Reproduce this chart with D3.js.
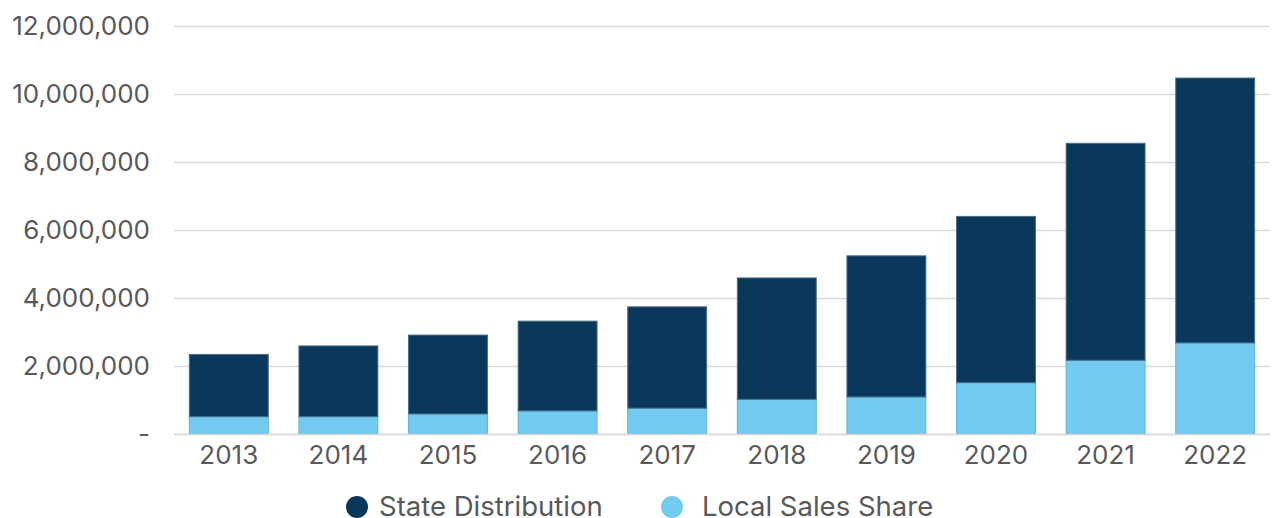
<!DOCTYPE html>
<html>
<head>
<meta charset="utf-8">
<script src="https://cdn.jsdelivr.net/npm/d3@7"></script>
<style>
  html, body { margin: 0; padding: 0; background: #fff; }
  svg { display: block; font-family: Inter, "Noto Sans", sans-serif; }
  .tick text { fill: #595959; }
</style>
</head>
<body>
<div id="app"></div>
<script>
const years = ['2013', '2014', '2015', '2016', '2017', '2018', '2019', '2020', '2021', '2022']
const localSales = [510000, 510000, 590000, 680000, 760000, 1020000, 1090000, 1510000, 2170000, 2680000]
const stateDist = [1830000, 2080000, 2320000, 2640000, 2980000, 3570000, 4150000, 4890000, 6380000, 7790000]
const yTicks = [0, 2000000, 4000000, 6000000, 8000000, 10000000, 12000000]
const seriesNames = ['Local Sales Share', 'State Distribution']
const colors = { 'Local Sales Share': '#72cbee', 'State Distribution': '#0a385a' }
const strokes = { 'Local Sales Share': '#5fb3d6', 'State Distribution': '#4a6e89' }

const W = 1278, H = 518
const margin = { top: 26, right: 8, bottom: 84, left: 174 }
const width = W - margin.left - margin.right
const height = H - margin.top - margin.bottom

const rows = years.map((y, i) => ({ year: y, 'Local Sales Share': localSales[i], 'State Distribution': stateDist[i] }))
const stacked = d3.stack().keys(seriesNames)(rows)

const svg = d3.select('#app').append('svg')
  .attr('width', W).attr('height', H)

const g = svg.append('g').attr('transform', `translate(${margin.left},${margin.top})`)

const x = d3.scaleBand().domain(years).range([0, width]).paddingInner(0.28).paddingOuter(0.14)
const y = d3.scaleLinear().domain([0, 12000000]).range([height, 0])

// Gridlines
g.append('g')
  .call(d3.axisLeft(y).tickValues(yTicks).tickSize(-width).tickFormat(''))
  .call(s => s.select('.domain').remove())
  .selectAll('line').attr('stroke', '#d9d9d9').attr('stroke-width', 1.5)

// Bars
g.selectAll('.series')
  .data(stacked)
  .join('g')
  .attr('class', 'series')
  .attr('fill', d => colors[d.key])
  .attr('stroke', d => strokes[d.key])
  .attr('stroke-width', 1)
  .selectAll('rect')
  .data(d => d)
  .join('rect')
  .attr('x', d => x(d.data.year))
  .attr('y', d => y(d[1]))
  .attr('width', x.bandwidth())
  .attr('height', d => y(d[0]) - y(d[1]))

// Y axis labels
g.append('g')
  .call(d3.axisLeft(y).tickValues(yTicks).tickSize(0).tickPadding(24)
    .tickFormat(d => d === 0 ? '-' : d3.format(',')(d)))
  .call(s => s.select('.domain').remove())
  .selectAll('text').attr('font-size', 26).attr('font-family', 'Inter, sans-serif')

// X axis labels
g.append('g')
  .attr('transform', `translate(0,${height})`)
  .call(d3.axisBottom(x).tickSize(0).tickPadding(12))
  .call(s => s.select('.domain').attr('stroke', '#d9d9d9').attr('stroke-width', 1.5))
  .selectAll('text').attr('font-size', 26).attr('font-family', 'Inter, sans-serif')

// Legend
const legendItems = [
  { name: 'State Distribution', cx: 357, tx: 379 },
  { name: 'Local Sales Share', cx: 672, tx: 702 }
]
const legend = svg.append('g')
legend.selectAll('circle').data(legendItems).join('circle')
  .attr('cx', d => d.cx).attr('cy', 507).attr('r', 11)
  .attr('fill', d => colors[d.name])
legend.selectAll('text').data(legendItems).join('text')
  .attr('x', d => d.tx).attr('y', 516)
  .attr('font-size', 27.5).attr('fill', '#595959')
  .text(d => d.name)
</script>
</body>
</html>
